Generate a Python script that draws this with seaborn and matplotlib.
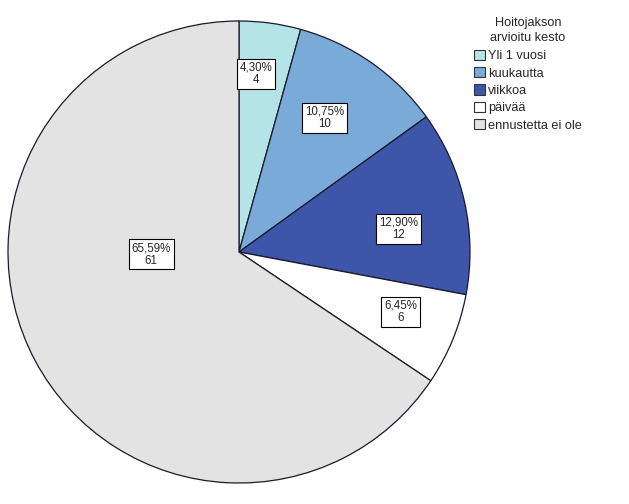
import matplotlib
matplotlib.use("Agg")
import matplotlib.pyplot as plt
import matplotlib.patches as mpatches
import seaborn as sns
import numpy as np

categories = ["Yli 1 vuosi", "kuukautta", "viikkoa", "päivää", "ennustetta ei ole"]
counts = [4, 10, 12, 6, 61]
pct_labels = ["4,30%", "10,75%", "12,90%", "6,45%", "65,59%"]
legend_title = "Hoitojakson\narvioitu kesto"

colors = ["#B5E4E6", "#7AAAD8", "#3E56A9", "#FFFFFF", "#E3E3E3"]

sns.set_style("white")
plt.rcParams['font.family'] = ['Liberation Sans', 'DejaVu Sans']

fig = plt.figure(figsize=(6.29, 5.04), dpi=100)
ax = fig.add_axes([8/629, 21/504, 462/629, 462/504])

wedges, _ = ax.pie(counts, colors=colors, startangle=90, counterclock=False,
                   radius=1.0, wedgeprops=dict(edgecolor="#1a1a2a", linewidth=0.9))
ax.set_xlim(-1, 1)
ax.set_ylim(-1, 1)
ax.set_aspect("equal")
ax.axis("off")

# label placement (layout only): offsets relative to pie center in radius units
label_pos = [(0.074, 0.77), (0.37, 0.58), (0.69, 0.10), (0.70, -0.26), (-0.38, -0.01)]
for (x, y), p, c in zip(label_pos, pct_labels, counts):
    ax.text(x, y, f"{p}\n{c}", ha="center", va="center", fontsize=8.3, linespacing=1.05,
            bbox=dict(boxstyle="square,pad=0.25", facecolor="white", edgecolor="black", linewidth=0.8))

handles = [mpatches.Patch(facecolor=col, edgecolor="#333333", linewidth=0.8, label=cat)
           for col, cat in zip(colors, categories)]
leg = fig.legend(handles=handles, title=legend_title, loc="upper left",
                 bbox_to_anchor=(465/629, 1 - 8/504), frameon=False, fontsize=9.2,
                 title_fontsize=9.2, handlelength=0.85, handleheight=0.85, handletextpad=0.25,
                 labelspacing=0.38, borderpad=0.2)
leg.get_title().set_multialignment("center")
leg.get_title().set_linespacing(1.35)
leg._legend_box.sep = 4

fig.savefig("out.png", dpi=100)
